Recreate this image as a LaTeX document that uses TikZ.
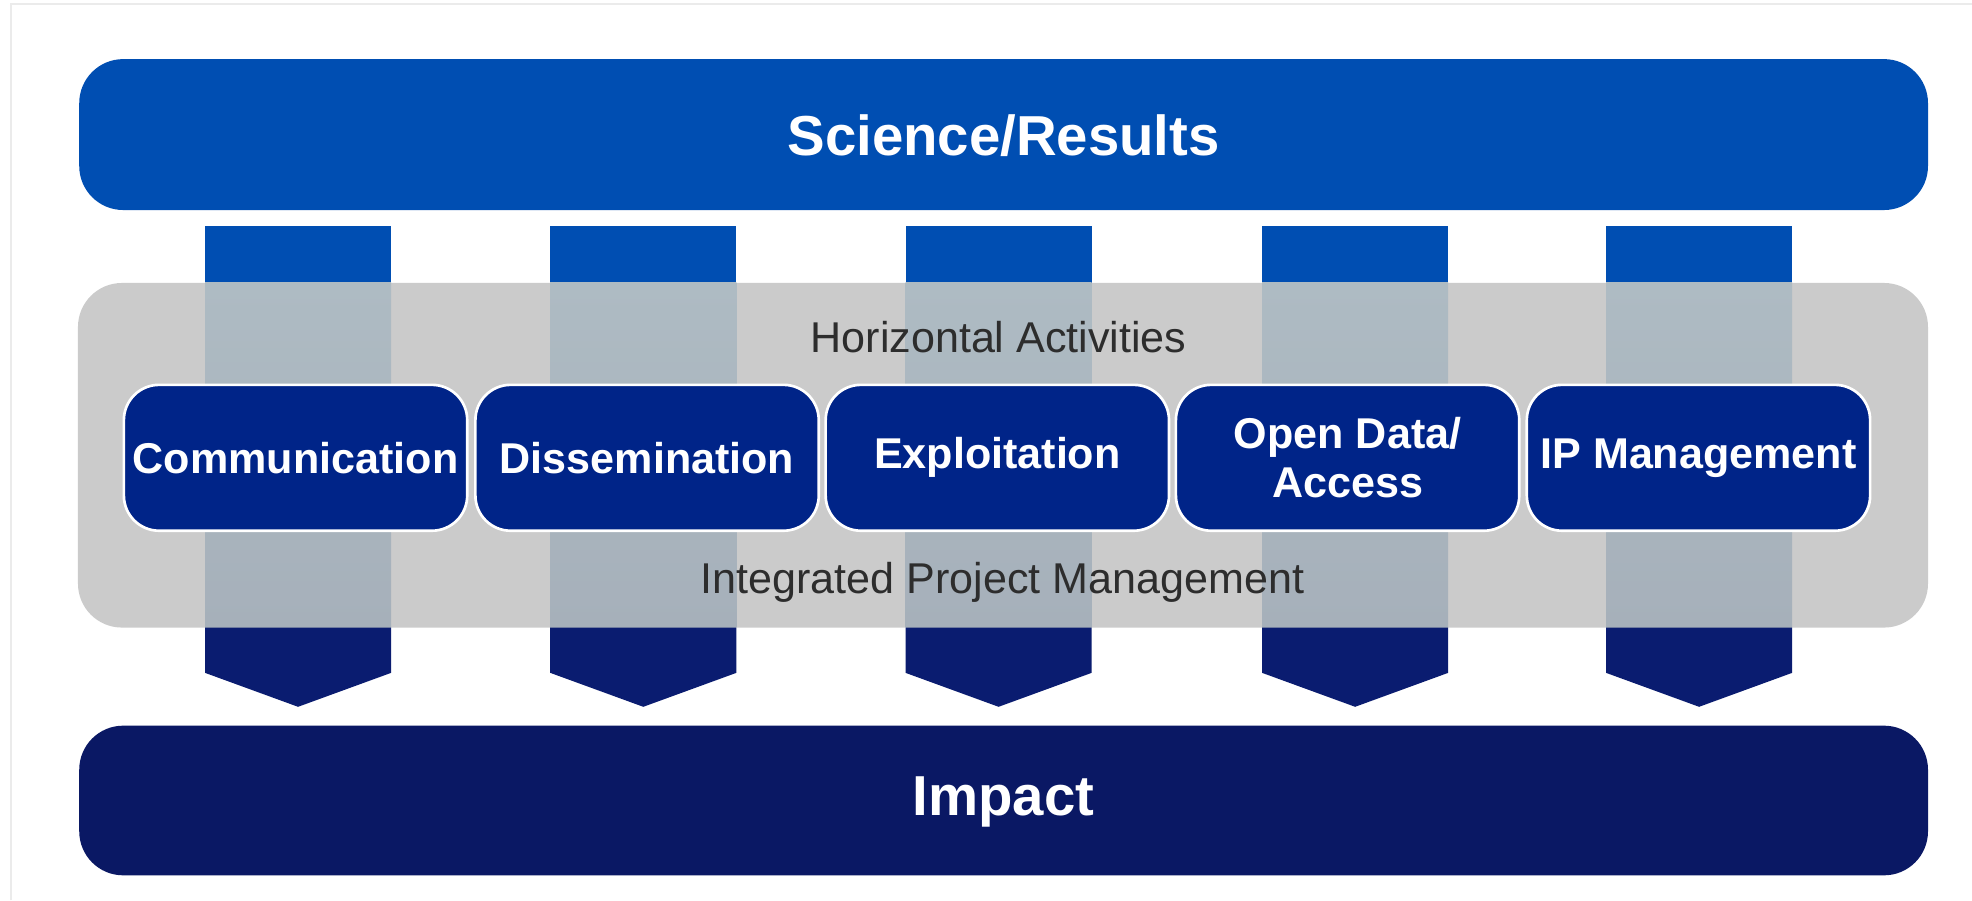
\documentclass[tikz,border=0pt]{standalone}
\usepackage{fontspec}
\setmainfont{Liberation Sans}
\begin{document}
\begin{tikzpicture}[x=0.02cm,y=-0.02cm,
  bar/.style={rounded corners=0.7cm},
  actbox/.style={draw=white,line width=1.2pt,fill=boxblue,rounded corners=0.56cm,
    minimum width=273*0.02cm,minimum height=116*0.02cm,inner sep=0pt,
    text=white,font=\fontsize{19.5}{22}\selectfont\bfseries,align=center},
  bigtxt/.style={text=white,font=\fontsize{25.5}{30}\selectfont\bfseries},
  paneltxt/.style={text=txtgrey,font=\fontsize{19.5}{23}\selectfont}
]
\definecolor{topblue}{RGB}{0,78,178}
\definecolor{boxblue}{RGB}{0,36,136}
\definecolor{impblue}{RGB}{10,24,100}
\definecolor{coldark}{RGB}{10,28,112}
\definecolor{panelgrey}{RGB}{203,203,203}
\definecolor{overlapA}{RGB}{174,187,195}
\definecolor{overlapB}{RGB}{166,176,186}
\definecolor{txtgrey}{RGB}{45,45,45}
\definecolor{framegrey}{RGB}{235,235,235}
\useasboundingbox (0,0) rectangle (1568,716);
\fill[white] (0,0) rectangle (1568,716);
% faint frame of the screenshot
\draw[framegrey,line width=0.8pt] (9,716) -- (9,3) -- (1568,3);
% top and bottom bars
\fill[topblue,bar] (63,47) rectangle (1533,167);
\fill[impblue,bar] (63,577) rectangle (1533,696);
% grey panel
\fill[panelgrey,bar] (62,225) rectangle (1533,499);
% columns
\foreach \cx in {237,511.5,794,1077.5,1351}{
  \fill[topblue] (\cx-74,180) rectangle (\cx+74,225);
  \shade[top color=overlapA,bottom color=overlapB] (\cx-74,225) rectangle (\cx+74,499);
  \fill[coldark] (\cx-74,499) -- (\cx+74,499) -- (\cx+74,535) -- (\cx,562) -- (\cx-74,535) -- cycle;
}
% texts
\node[bigtxt] (sci) at (798,108) {Science/Results};
\node[bigtxt] (imp) at (798,638) {Impact};
\node[paneltxt] (hor) at (794,268) {Horizontal Activities};
\node[paneltxt] (ipm) at (797,463) {Integrated Project Management};
% activity boxes
\node[actbox] (comm) at (235,364) {Communication};
\node[actbox] (diss) at (514.5,364) {Dissemination};
\node[actbox] (expl) at (793,364) {Exploitation};
\node[actbox] (open) at (1071.5,364) {Open Data/\\Access};
\node[actbox] (ipman) at (1350.5,364) {IP Management};
\end{tikzpicture}
\end{document}
